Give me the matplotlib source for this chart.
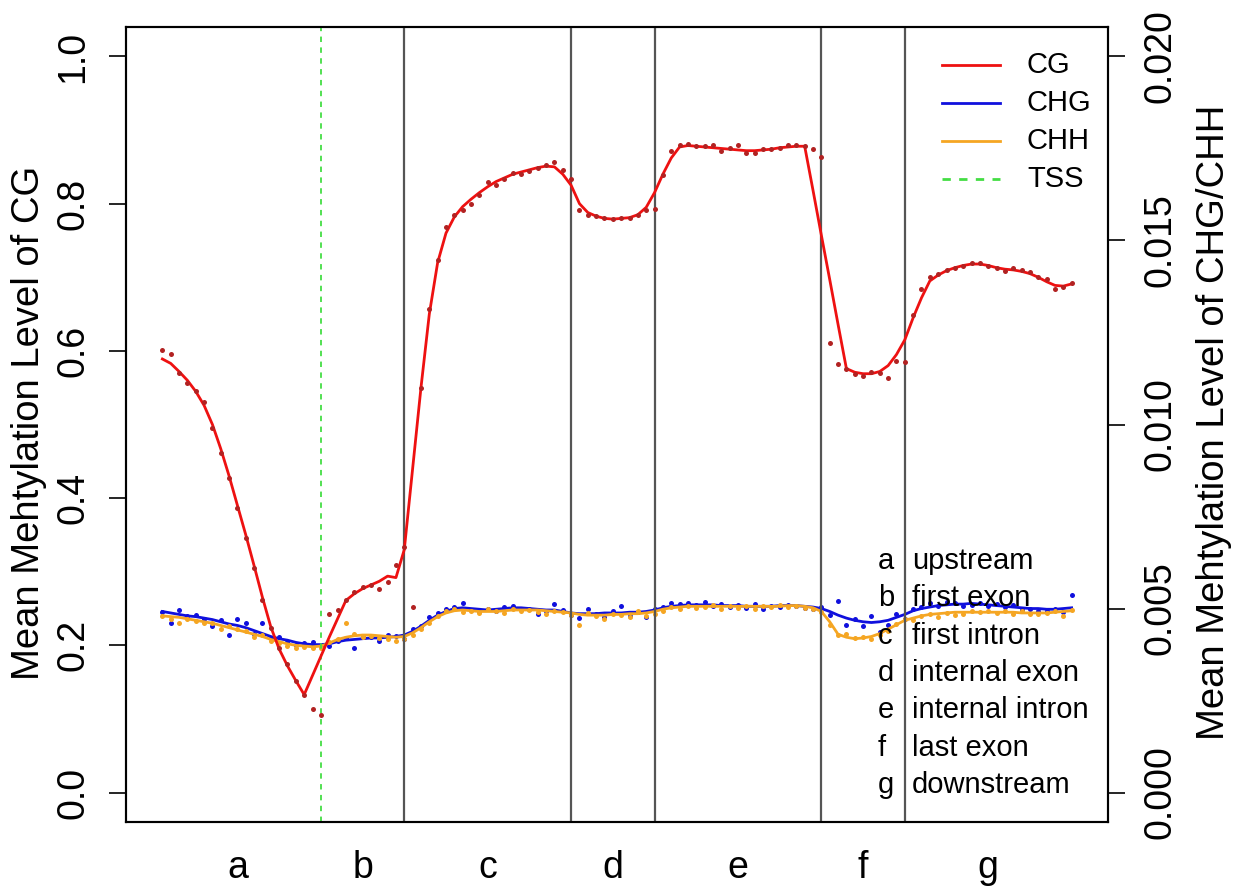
import numpy as np
import matplotlib
matplotlib.use("Agg")
import matplotlib.pyplot as plt
from matplotlib.lines import Line2D

plt.rcParams['font.family'] = ['Liberation Sans', 'DejaVu Sans']

# ---------------- data ----------------
bins = list(range(-38, 181, 2))          # bin positions along the gene model (TSS = 0)

cg_points = [0.601, 0.596, 0.570, 0.556, 0.545, 0.530, 0.495, 0.461, 0.427, 0.386,
             0.346, 0.305, 0.261, 0.223, 0.197, 0.175, 0.152, 0.132, 0.114, 0.105,
             0.243, 0.248, 0.262, 0.272, 0.279, 0.282, 0.277, 0.286, 0.309, 0.334,
             0.252, 0.549, 0.657, 0.723, 0.768, 0.784, 0.792, 0.800, 0.812, 0.829,
             0.826, 0.833, 0.842, 0.840, 0.844, 0.848, 0.852, 0.857, 0.846, 0.833,
             0.792, 0.785, 0.783, 0.781, 0.779, 0.781, 0.781, 0.785, 0.792, 0.793,
             0.839, 0.871, 0.880, 0.881, 0.878, 0.879, 0.880, 0.872, 0.875, 0.880,
             0.869, 0.869, 0.874, 0.874, 0.876, 0.880, 0.880, 0.878, 0.874, 0.864,
             0.611, 0.582, 0.576, 0.569, 0.566, 0.572, 0.570, 0.563, 0.586, 0.585,
             0.649, 0.684, 0.700, 0.705, 0.710, 0.712, 0.716, 0.719, 0.720, 0.716,
             0.712, 0.709, 0.712, 0.710, 0.707, 0.701, 0.697, 0.684, 0.687, 0.692]

cg_line = [0.589, 0.583, 0.572, 0.560, 0.545, 0.526, 0.500, 0.467, 0.430, 0.390,
           0.350, 0.308, 0.265, 0.225, 0.195, 0.172, 0.152, 0.133, 0.159, 0.185,
           0.211, 0.236, 0.261, 0.270, 0.277, 0.282, 0.287, 0.294, 0.292, 0.330,
           0.440, 0.550, 0.650, 0.720, 0.760, 0.782, 0.796, 0.806, 0.815, 0.823,
           0.830, 0.835, 0.840, 0.843, 0.846, 0.849, 0.851, 0.850, 0.840, 0.825,
           0.800, 0.788, 0.783, 0.780, 0.779, 0.780, 0.781, 0.785, 0.795, 0.815,
           0.840, 0.862, 0.877, 0.879, 0.878, 0.877, 0.876, 0.875, 0.874, 0.873,
           0.872, 0.872, 0.873, 0.874, 0.876, 0.877, 0.878, 0.878, 0.818, 0.757,
           0.697, 0.636, 0.576, 0.571, 0.569, 0.569, 0.572, 0.580, 0.595, 0.615,
           0.645, 0.672, 0.695, 0.703, 0.709, 0.713, 0.716, 0.718, 0.718, 0.716,
           0.713, 0.711, 0.710, 0.708, 0.705, 0.700, 0.694, 0.689, 0.688, 0.691]

chg_points = [0.00490, 0.00462, 0.00496, 0.00480, 0.00482, 0.00472, 0.00452, 0.00468, 0.00428, 0.00472,
              0.00460, 0.00430, 0.00462, 0.00420, 0.00424, 0.00410, 0.00400, 0.00406, 0.00408, 0.00398,
              0.00398, 0.00412, 0.00420, 0.00394, 0.00422, 0.00424, 0.00412, 0.00428, 0.00426, 0.00418,
              0.00444, 0.00452, 0.00476, 0.00488, 0.00498, 0.00504, 0.00516, 0.00496, 0.00494, 0.00500,
              0.00492, 0.00504, 0.00506, 0.00498, 0.00500, 0.00486, 0.00494, 0.00512, 0.00496, 0.00482,
              0.00474, 0.00498, 0.00486, 0.00478, 0.00492, 0.00506, 0.00480, 0.00490, 0.00476, 0.00498,
              0.00504, 0.00514, 0.00512, 0.00516, 0.00510, 0.00518, 0.00506, 0.00512, 0.00504, 0.00510,
              0.00502, 0.00512, 0.00500, 0.00508, 0.00504, 0.00510, 0.00506, 0.00502, 0.00500, 0.00504,
              0.00482, 0.00520, 0.00456, 0.00472, 0.00452, 0.00480, 0.00436, 0.00454, 0.00486, 0.00472,
              0.00500, 0.00504, 0.00516, 0.00506, 0.00518, 0.00514, 0.00508, 0.00510, 0.00516, 0.00508,
              0.00512, 0.00504, 0.00510, 0.00496, 0.00500, 0.00492, 0.00494, 0.00498, 0.00490, 0.00536]

chg_line = [0.00492, 0.00488, 0.00484, 0.00480, 0.00478, 0.00474, 0.00470, 0.00464, 0.00458, 0.00454,
            0.00448, 0.00440, 0.00432, 0.00424, 0.00418, 0.00414, 0.00408, 0.00404, 0.00402, 0.00402,
            0.00404, 0.00410, 0.00414, 0.00416, 0.00418, 0.00420, 0.00420, 0.00422, 0.00424, 0.00428,
            0.00438, 0.00452, 0.00468, 0.00482, 0.00492, 0.00500, 0.00502, 0.00500, 0.00498, 0.00496,
            0.00498, 0.00500, 0.00502, 0.00502, 0.00500, 0.00498, 0.00496, 0.00496, 0.00492, 0.00488,
            0.00486, 0.00486, 0.00486, 0.00488, 0.00488, 0.00488, 0.00490, 0.00490, 0.00492, 0.00496,
            0.00502, 0.00506, 0.00508, 0.00510, 0.00510, 0.00510, 0.00510, 0.00508, 0.00508, 0.00508,
            0.00506, 0.00506, 0.00506, 0.00506, 0.00508, 0.00508, 0.00508, 0.00506, 0.00504, 0.00500,
            0.00492, 0.00482, 0.00474, 0.00468, 0.00464, 0.00462, 0.00464, 0.00468, 0.00476, 0.00484,
            0.00494, 0.00500, 0.00504, 0.00508, 0.00510, 0.00512, 0.00512, 0.00514, 0.00512, 0.00510,
            0.00508, 0.00506, 0.00504, 0.00502, 0.00500, 0.00500, 0.00498, 0.00498, 0.00500, 0.00502]

chh_points = [0.00480, 0.00472, 0.00462, 0.00472, 0.00466, 0.00462, 0.00460, 0.00444, 0.00452, 0.00444,
              0.00438, 0.00422, 0.00428, 0.00412, 0.00406, 0.00398, 0.00394, 0.00396, 0.00392, 0.00394,
              0.00410, 0.00418, 0.00462, 0.00430, 0.00422, 0.00426, 0.00420, 0.00418, 0.00412, 0.00416,
              0.00428, 0.00444, 0.00462, 0.00480, 0.00492, 0.00500, 0.00490, 0.00492, 0.00488, 0.00498,
              0.00494, 0.00488, 0.00498, 0.00494, 0.00496, 0.00490, 0.00486, 0.00494, 0.00490, 0.00482,
              0.00456, 0.00488, 0.00480, 0.00472, 0.00486, 0.00482, 0.00478, 0.00492, 0.00480, 0.00486,
              0.00494, 0.00504, 0.00500, 0.00508, 0.00502, 0.00504, 0.00510, 0.00500, 0.00506, 0.00502,
              0.00508, 0.00498, 0.00506, 0.00504, 0.00510, 0.00504, 0.00506, 0.00502, 0.00500, 0.00490,
              0.00456, 0.00428, 0.00432, 0.00420, 0.00424, 0.00418, 0.00428, 0.00440, 0.00458, 0.00472,
              0.00470, 0.00480, 0.00486, 0.00476, 0.00488, 0.00482, 0.00486, 0.00494, 0.00490, 0.00492,
              0.00488, 0.00494, 0.00484, 0.00492, 0.00486, 0.00484, 0.00488, 0.00492, 0.00480, 0.00496]

chh_line = [0.00480, 0.00478, 0.00476, 0.00472, 0.00468, 0.00464, 0.00460, 0.00454, 0.00448, 0.00442,
            0.00436, 0.00430, 0.00424, 0.00416, 0.00410, 0.00404, 0.00400, 0.00398, 0.00396, 0.00398,
            0.00406, 0.00416, 0.00422, 0.00426, 0.00428, 0.00428, 0.00426, 0.00424, 0.00422, 0.00424,
            0.00434, 0.00448, 0.00464, 0.00478, 0.00488, 0.00494, 0.00496, 0.00494, 0.00492, 0.00492,
            0.00492, 0.00494, 0.00496, 0.00496, 0.00496, 0.00496, 0.00494, 0.00492, 0.00490, 0.00488,
            0.00484, 0.00482, 0.00482, 0.00482, 0.00484, 0.00484, 0.00486, 0.00486, 0.00488, 0.00492,
            0.00498, 0.00502, 0.00504, 0.00506, 0.00506, 0.00506, 0.00506, 0.00506, 0.00506, 0.00506,
            0.00506, 0.00506, 0.00506, 0.00506, 0.00506, 0.00508, 0.00508, 0.00506, 0.00502, 0.00492,
            0.00464, 0.00430, 0.00422, 0.00418, 0.00420, 0.00424, 0.00432, 0.00444, 0.00456, 0.00468,
            0.00474, 0.00480, 0.00484, 0.00486, 0.00488, 0.00490, 0.00490, 0.00490, 0.00490, 0.00490,
            0.00490, 0.00490, 0.00490, 0.00488, 0.00488, 0.00488, 0.00488, 0.00490, 0.00492, 0.00494]

tss_position = 0
region_boundaries = [20, 60, 80, 120, 140]
region_letters = ['a', 'b', 'c', 'd', 'e', 'f', 'g']
region_letter_pos = [-20, 10, 40, 70, 100, 130, 160]
region_names = ['upstream', 'first exon', 'first intron', 'internal exon',
                'internal intron', 'last exon', 'downstream']
left_ticks = [0.0, 0.2, 0.4, 0.6, 0.8, 1.0]
right_ticks = [0.000, 0.005, 0.010, 0.015, 0.020]

# ---------------- figure ----------------
W, H = 1247, 888
fig = plt.figure(figsize=(W / 100, H / 100), dpi=100)
L, R, T, B = 126, 1108, 27, 822
ax = fig.add_axes([L / W, 1 - B / H, (R - L) / W, (B - T) / H])
ax2 = ax.twinx()
ax.set_zorder(ax2.get_zorder() + 1)
ax.patch.set_visible(False)

ax.set_xlim(-46.72, 188.72)
ax.set_ylim(-0.04, 1.04)
ax2.set_ylim(-0.0008, 0.0208)

red_line = '#EE1111'
red_pts = '#B22222'
blue = '#1010DD'
orange = '#F5A623'
green = '#44DD44'
grey = '#555555'

# CHG / CHH on the right axis
ax2.plot(bins, chg_line, color=blue, lw=2.0, zorder=3)
ax2.plot(bins, chg_points, 'o', color=blue, ms=3.6, mew=0, zorder=3)
ax2.plot(bins, chh_line, color=orange, lw=2.0, zorder=4)
ax2.plot(bins, chh_points, 'o', color=orange, ms=3.6, mew=0, zorder=4)

# CG on the left axis
ax.plot(bins, cg_line, color=red_line, lw=2.0, zorder=3)
ax.plot(bins, cg_points, 'o', color=red_pts, ms=3.6, mew=0, zorder=3)

for xb in region_boundaries:
    ax.axvline(xb, color=grey, lw=1.6, zorder=2)
ax.axvline(tss_position, color=green, lw=1.3, ls=(0, (3, 3)), zorder=2)

# axes styling
for a in (ax, ax2):
    for s in a.spines.values():
        s.set_linewidth(1.5)
ax.set_yticks(left_ticks)
ax.set_yticklabels(['%.1f' % v for v in left_ticks], rotation=90, va='center', fontsize=27)
ax.tick_params(axis='y', length=12, width=1.2, pad=13)
ax2.set_yticks(right_ticks)
ax2.set_yticklabels(['%.3f' % v for v in right_ticks], rotation=90, va='center', fontsize=27)
ax2.tick_params(axis='y', length=12, width=1.2, pad=13)
ax.set_xticks(region_letter_pos)
ax.set_xticklabels(region_letters, fontsize=27)
ax.tick_params(axis='x', length=0, pad=20)

fig.text(29 / W, 1 - 423 / H, 'Mean Mehtylation Level of CG', rotation=90,
         ha='center', va='center', fontsize=27.5)
fig.text(1214 / W, 1 - 422 / H, 'Mean Mehtylation Level of CHG/CHH', rotation=90,
         ha='center', va='center', fontsize=27.5)

# legend (series)
def ax_frac(px, py):
    return (px - L) / (R - L), (B - py) / (B - T)

legend_items = [('CG', red_line, '-'), ('CHG', blue, '-'), ('CHH', orange, '-'), ('TSS', green, (0, (3, 3)))]
for i, (lab, col, ls) in enumerate(legend_items):
    py = 65 + 38 * i
    x0, y0 = ax_frac(942, py)
    x1, _ = ax_frac(1000, py)
    ax.add_line(Line2D([x0, x1], [y0, y0], transform=ax.transAxes, color=col, lw=2.0, ls=ls))
    tx, ty = ax_frac(1027, py)
    ax.text(tx, ty, lab, transform=ax.transAxes, fontsize=21, ha='left', va='center')

# region key
for i, (let, name) in enumerate(zip(region_letters, region_names)):
    py = 561 + 37.3 * i
    lx, ly = ax_frac(878, py)
    nx, _ = ax_frac(912, py)
    ax.text(lx, ly, let, transform=ax.transAxes, fontsize=21, ha='left', va='center')
    ax.text(nx, ly, name, transform=ax.transAxes, fontsize=21, ha='left', va='center')

fig.savefig('out.png', dpi=100)
